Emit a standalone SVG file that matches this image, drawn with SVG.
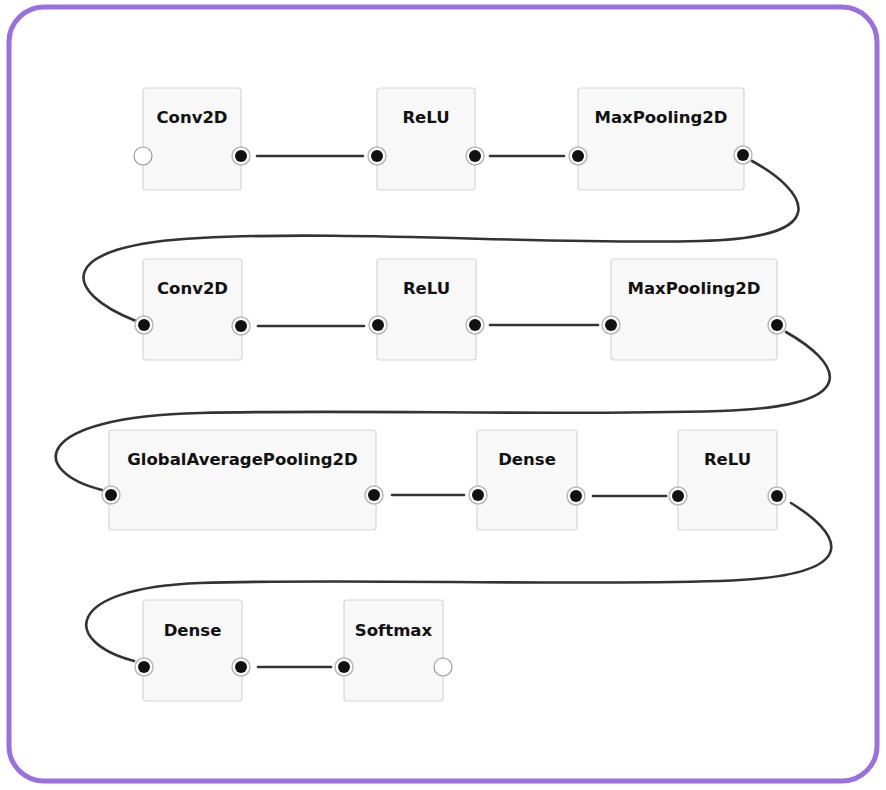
<svg xmlns="http://www.w3.org/2000/svg" width="886" height="790" viewBox="0 0 886 790">
<style>
.box{fill:#f8f8f8;stroke:#d6d6d6;stroke-width:1.2}
.t{font-family:"DejaVu Sans",Verdana,sans-serif;font-weight:bold;font-size:16.5px;fill:#111;text-anchor:middle}
.pr{fill:#fff;stroke:#b8b8b8;stroke-width:1.5}
.pd{fill:#111}
.po{fill:#fff;stroke:#9a9a9a;stroke-width:1.2}
.w{fill:none;stroke:#333;stroke-width:2.6;stroke-linecap:round}
</style>
<defs>
<g id="port"><circle class="pr" r="9"/><circle class="pd" r="6"/></g>
<circle id="open" class="po" r="9"/>
</defs>
<rect x="0" y="0" width="886" height="790" fill="#fff"/>
<rect x="9" y="7" width="868" height="774" rx="35" fill="#fff" stroke="#9a6fe0" stroke-width="5"/>
<g id="connectors">
<line class="w" x1="257" y1="156" x2="363" y2="156"/>
<line class="w" x1="490" y1="156" x2="564" y2="156"/>
<path class="w" d="M 752 161 C 805 190, 840 238, 700 241 C 550 245, 350 230, 200 238 C 52 245, 62 292, 136 321"/>
<line class="w" x1="258" y1="326" x2="364" y2="326"/>
<line class="w" x1="490" y1="325" x2="598" y2="325"/>
<path class="w" d="M 786 332 C 835 360, 875 406, 720 411 C 550 416, 350 409, 200 413 C 28 417, 30 472, 102 490"/>
<line class="w" x1="392" y1="495" x2="464" y2="495"/>
<line class="w" x1="593" y1="496" x2="666" y2="496"/>
<path class="w" d="M 791 503 C 835 530, 877 576, 720 581 C 550 586, 350 578, 200 583 C 62 588, 62 642, 134 661"/>
<line class="w" x1="258" y1="667" x2="331" y2="667"/>
</g>
<g id="n1"><rect class="box" x="143" y="88" width="98" height="102" rx="3"/><text class="t" x="192" y="123">Conv2D</text><use href="#open" x="143" y="156"/><use href="#port" x="241" y="156"/></g>
<g id="n2"><rect class="box" x="377" y="88" width="98" height="102" rx="3"/><text class="t" x="426" y="123">ReLU</text><use href="#port" x="377" y="156"/><use href="#port" x="475" y="156"/></g>
<g id="n3"><rect class="box" x="578" y="88" width="166" height="102" rx="3"/><text class="t" x="661" y="123">MaxPooling2D</text><use href="#port" x="578" y="156"/><use href="#port" x="743" y="155"/></g>
<g id="n4"><rect class="box" x="143" y="259" width="99" height="101" rx="3"/><text class="t" x="192.5" y="294">Conv2D</text><use href="#port" x="144" y="325"/><use href="#port" x="241" y="326"/></g>
<g id="n5"><rect class="box" x="377" y="259" width="99" height="101" rx="3"/><text class="t" x="426.5" y="294">ReLU</text><use href="#port" x="378" y="325"/><use href="#port" x="475" y="325"/></g>
<g id="n6"><rect class="box" x="611" y="259" width="166" height="101" rx="3"/><text class="t" x="694" y="294">MaxPooling2D</text><use href="#port" x="611" y="325"/><use href="#port" x="777" y="325"/></g>
<g id="n7"><rect class="box" x="109" y="430" width="267" height="100" rx="3"/><text class="t" x="242.5" y="465">GlobalAveragePooling2D</text><use href="#port" x="111" y="495"/><use href="#port" x="374" y="495"/></g>
<g id="n8"><rect class="box" x="477" y="430" width="100" height="100" rx="3"/><text class="t" x="527" y="465">Dense</text><use href="#port" x="478" y="495"/><use href="#port" x="576" y="496"/></g>
<g id="n9"><rect class="box" x="678" y="430" width="99" height="100" rx="3"/><text class="t" x="727.5" y="465">ReLU</text><use href="#port" x="678" y="496"/><use href="#port" x="777" y="496"/></g>
<g id="n10"><rect class="box" x="143" y="600" width="99" height="101" rx="3"/><text class="t" x="192.5" y="636">Dense</text><use href="#port" x="144" y="667"/><use href="#port" x="241" y="667"/></g>
<g id="n11"><rect class="box" x="344" y="600" width="99" height="101" rx="3"/><text class="t" x="393.5" y="636">Softmax</text><use href="#port" x="344" y="667"/><use href="#open" x="443" y="667"/></g>
</svg>
